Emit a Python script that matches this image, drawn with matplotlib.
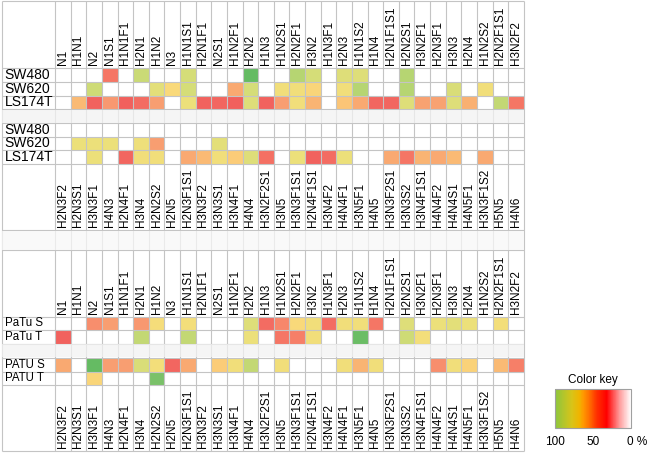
import numpy as np
import matplotlib
matplotlib.use("Agg")
import matplotlib.pyplot as plt
from matplotlib.colors import LinearSegmentedColormap, Normalize
from matplotlib.colorbar import ColorbarBase
from matplotlib.transforms import ScaledTranslation

plt.rcParams['font.family'] = ['Liberation Sans', 'DejaVu Sans']

n = np.nan

top_cols = ["N1", "H1N1", "N2", "N1S1", "H1N1F1", "H2N1", "H1N2", "N3", "H1N1S1", "H2N1F1",
            "N2S1", "H1N2F1", "H2N2", "H1N3", "H1N2S1", "H2N2F1", "H3N2", "H1N3F1", "H2N3", "H1N1S2",
            "H1N4", "H2N1F1S1", "H2N2S1", "H3N2F1", "H2N3F1", "H3N3", "H2N4", "H1N2S2", "H2N2F1S1", "H3N2F2"]
bottom_cols = ["H2N3F2", "H2N3S1", "H3N3F1", "H4N3", "H2N4F1", "H3N4", "H2N2S2", "H2N5", "H2N3F1S1", "H3N3F2",
               "H3N3S1", "H3N4F1", "H4N4", "H3N2F2S1", "H3N5", "H3N3F1S1", "H2N4F1S1", "H3N4F2", "H4N4F1", "H3N5F1",
               "H4N5", "H3N3F2S1", "H3N3S2", "H3N4F1S1", "H4N4F2", "H4N4S1", "H4N5F1", "H3N3F1S2", "H5N5", "H4N6"]

rows_crc = ["SW480", "SW620", "LS174T"]
rows_patu1 = ["PaTu S", "PaTu T"]
rows_patu2 = ["PATU S", "PATU T"]

# % values, nan = not detected
sw480_top = [n, n, n, 45, n, 87, n, n, 85, n, n, n, 98, n, n, 90, 85, n, 83, 83, n, n, 90, n, n, n, n, n, n, n]
sw620_top = [n, n, 86, n, n, n, 82, 74, 85, n, n, 60, 85, n, 78, 78, 73, n, 78, 90, n, n, 90, n, n, 84, n, 78, n, n]
ls174t_top = [n, 65, 38, 55, 37, 42, 57, n, 80, 38, 40, 37, 83, 38, 57, 78, 63, n, 68, 60, 40, 40, 83, 58, 58, 83, 62, n, 88, 45]

sw480_bot = [n] * 30
sw620_bot = [n, 80, 80, 80, n, 79, 57, n, n, n, 82, n, n, n, n, n, n, n, n, n, n, n, n, n, n, n, n, n, n, n]
ls174t_bot = [n, n, 80, n, 40, 78, 78, n, 60, 65, 78, 70, 83, 43, n, 80, 38, 42, 80, n, n, 60, 45, 63, 60, 65, n, 60, n, n]

patus_top = [n, n, 52, 57, n, 55, 76, n, 77, n, n, n, 83, 42, 50, 74, 78, 42, 78, 78, 45, n, 83, n, 80, 82, 80, n, 77, n]
patut_top = [38, n, n, n, n, 88, n, n, 88, n, n, n, 80, n, 45, 48, 78, n, n, 97, n, n, 86, 77, n, n, n, n, n, n]

patus_bot = [60, n, 98, 57, 57, 84, 77, 40, 60, n, 70, 78, 88, n, 78, n, n, n, 78, 63, 78, n, n, n, 52, 78, 72, n, 65, 48]
patut_bot = [n, n, 73, n, n, n, 95, n, n, n, n, n, n, n, n, n, n, n, n, n, n, n, n, n, n, n, n, n, n, n]

cell_cmap = LinearSegmentedColormap.from_list("cells", [
    (0.00, "#ffffff"), (0.35, "#f05c5c"), (0.40, "#f26660"), (0.48, "#f67f68"),
    (0.55, "#f89870"), (0.62, "#f9b072"), (0.70, "#fbcb78"), (0.75, "#f8dc7a"),
    (0.80, "#ece07a"), (0.85, "#d6dd78"), (0.90, "#b8d672"), (0.95, "#7cc26a"), (1.00, "#56b65f")])
key_cmap = LinearSegmentedColormap.from_list("key", [
    (0.00, "#ffffff"), (0.15, "#ff9a9a"), (0.32, "#ff0000"), (0.45, "#ff3000"),
    (0.55, "#ff7000"), (0.63, "#ff9900"), (0.68, "#f0b400"), (0.78, "#d8c418"), (1.00, "#8cc63f")])

fig = plt.figure(figsize=(6.49, 4.54), dpi=100)
ax = fig.add_axes([0, 0, 1, 1])
cw = 15.63
ax.set_xlim(-55 / cw, (649 - 55) / cw)
ax.set_ylim(454, 0)
ax.axis('off')

left = -53.3 / cw
ncol = len(top_cols)
xe = np.arange(ncol + 1)
grid = "#c4c4c4"

blocks = [
    ([68, 82, 95.5, 109], rows_crc, [sw480_top, sw620_top, ls174t_top], 10),
    ([123, 136.5, 150, 164], rows_crc, [sw480_bot, sw620_bot, ls174t_bot], 10),
    ([316.5, 330, 343.5], rows_patu1, [patus_top, patut_top], 8.3),
    ([357.5, 371.5, 385], rows_patu2, [patus_bot, patut_bot], 8.3),
]
for ye, names, vals, fs in blocks:
    ax.pcolormesh(xe, ye, np.ma.masked_invalid(np.array(vals, dtype=float)),
                  cmap=cell_cmap, vmin=0, vmax=100, shading='flat', zorder=1)
    for k, name in enumerate(names):
        ax.text(left + 3 / cw, (ye[k] + ye[k + 1]) / 2, name, fontsize=fs, ha='left', va='center', zorder=4)

# table rules
hl = [0.5, 68, 82, 95.5, 109, 123, 136.5, 150, 164, 230, 250, 316.5, 330, 343.5, 357.5, 371.5, 385, 451]
ax.hlines(hl, left, ncol, color=grid, lw=0.8, zorder=2)
ax.vlines(xe, 0.5, 451, color=grid, lw=0.8, zorder=2)
ax.vlines([left], 0.5, 451, color=grid, lw=0.8, zorder=2)
for y0, y1, fc in [(109, 123, "#f2f2f2"), (230, 250, "#f8f8f8"), (343.5, 357.5, "#f2f2f2")]:
    ax.fill_between([left, ncol], y0 + 0.5, y1 - 0.5, color=fc, alpha=0.75, lw=0, zorder=3)

# column headers
for base, labels in [(65, top_cols), (227, bottom_cols), (313.5, top_cols), (448, bottom_cols)]:
    for i, lab in enumerate(labels):
        ax.text(i + 0.5, base, lab, rotation=90, ha='center', va='bottom', fontsize=8.5, zorder=4)

# colour key
cax = fig.add_axes([555 / 649, 1 - 428 / 454, 76 / 649, 39 / 454])
cb = ColorbarBase(cax, cmap=key_cmap, norm=Normalize(0, 100), orientation='horizontal')
cax.invert_xaxis()
cb.outline.set_edgecolor("#a0a0a0")
cb.outline.set_linewidth(0.8)
cb.set_ticks([100, 50, 0])
cb.set_ticklabels(["100", "50", "0 %"])
cax.tick_params(length=0, labelsize=8.5, pad=6)
lab0 = cax.get_xticklabels()[-1]
lab0.set_ha('left')
lab0.set_transform(lab0.get_transform() + ScaledTranslation(-4 / 100, 0, fig.dpi_scale_trans))
cax.set_title("Color key", fontsize=8.5, pad=4)

fig.savefig("out.png", dpi=100)
